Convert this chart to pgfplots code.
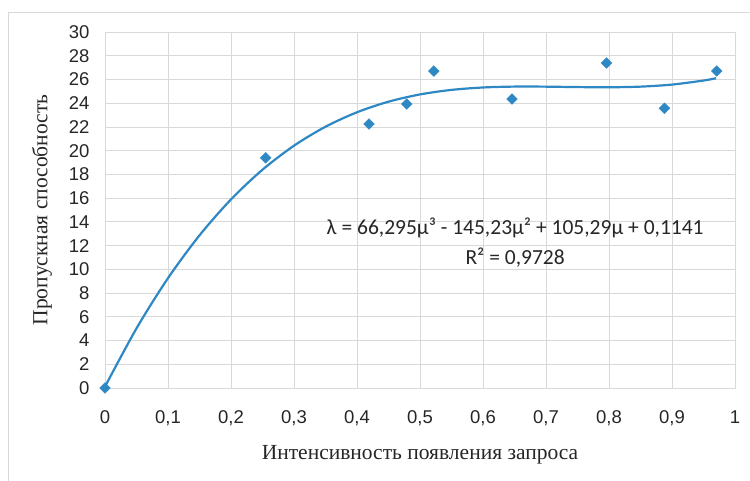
\documentclass[border=0pt]{standalone}
\usepackage{pgfplots}
\pgfplotsset{compat=1.18}
\usepackage{fontspec}
\setmainfont{Liberation Serif}
\newfontfamily\arialf{Liberation Sans}
\newfontfamily\calib{Carlito}
\definecolor{ptblue}{RGB}{46,136,196}
\definecolor{gridc}{RGB}{217,217,217}
\definecolor{tickc}{RGB}{38,38,38}
\begin{document}
\begin{tikzpicture}
\begin{axis}[
  at={(0,0)}, anchor=origin,
  scale only axis, width=630pt, height=356pt,
  xmin=0, xmax=1, ymin=0, ymax=30,
  xtick={0,0.1,...,1.0001}, ytick={0,2,...,30},
  grid=major, major grid style={gridc, line width=0.8pt},
  axis line style={gridc, line width=0.8pt},
  major tick length=0pt,
  /pgf/number format/use comma,
  /pgf/number format/assume math mode=true,
  ticklabel style={font=\arialf\fontsize{18.5}{20}\selectfont, text=tickc},
  xticklabel style={yshift=-19pt},
  yticklabel style={xshift=-12pt},
  xlabel={Интенсивность появления запроса},
  ylabel={Пропускная способность},
  xlabel style={font=\fontsize{21.5}{24}\selectfont, text=tickc, at={(axis description cs:0.5,-0.188)}, anchor=center},
  ylabel style={font=\fontsize{21.5}{24}\selectfont, text=tickc, at={(axis description cs:-0.1,0.5)}, anchor=center},
  clip=false,
]
\addplot[ptblue, line width=2.2pt, smooth, no markers] coordinates {
(0,0.114) (0.05,5.024) (0.1,9.257) (0.15,12.864) (0.2,15.893) (0.25,18.396)
(0.3,20.420) (0.35,22.017) (0.4,23.236) (0.45,24.127) (0.5,24.739)
(0.55,25.121) (0.6,25.325) (0.65,25.399) (0.7,25.394) (0.75,25.358)
(0.8,25.342) (0.85,25.395) (0.9,25.568) (0.95,25.909) (0.97,26.104)
};
\addplot[only marks, mark=square*, mark size=3.8pt, mark options={rotate=45, fill=ptblue, draw=ptblue}] coordinates {
(0,0) (0.255,19.4) (0.419,22.25) (0.479,23.93) (0.522,26.71) (0.646,24.35)
(0.796,27.39) (0.888,23.57) (0.971,26.71)
};
\node[align=center, font=\calib\fontsize{21.5}{30}\selectfont, text=tickc] at (axis cs:0.651,12.22)
  {λ = 66,295μ³ - 145,23μ² + 105,29μ + 0,1141\\R² = 0,9728};
\end{axis}
\draw[gridc, line width=0.8pt] (-97pt,-93pt) -- (-97pt,376pt) -- (645pt,376pt);
\pgfresetboundingbox
\path[use as bounding box] (-105pt,-93pt) rectangle (645pt,388pt);
\end{tikzpicture}
\end{document}
